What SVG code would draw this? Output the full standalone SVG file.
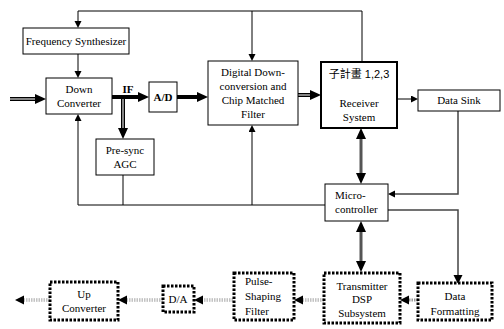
<svg xmlns="http://www.w3.org/2000/svg" width="504" height="329" viewBox="0 0 504 329" font-family="Liberation Serif, DejaVu Serif, serif">
<style>
.box{fill:#fff;stroke:#000;stroke-width:1}
.rbox{fill:#fff;stroke:#000;stroke-width:2}
.dbox{fill:#fff;stroke:#000;stroke-width:3;stroke-dasharray:2.5 1.5}
.t{font-size:11px;fill:#000;text-anchor:middle}
.tl{text-anchor:start}
.b{font-weight:bold}
.thin{fill:none;stroke:#000;stroke-width:1}
.gray{fill:none;stroke:#444;stroke-width:1.5}
.dbl{fill:none;stroke:#000;stroke-width:4}
.dblin{fill:none;stroke:#ccc;stroke-width:1.3}
.bid{fill:none;stroke:#555;stroke-width:3}
.dot{fill:none;stroke:#999;stroke-width:3;stroke-dasharray:1.5 1}
.dotin{fill:none;stroke:#fff;stroke-width:0.8}
</style>
<defs>
<marker id="sm" markerUnits="userSpaceOnUse" markerWidth="8" markerHeight="8" refX="0" refY="3.5" orient="auto"><path d="M0,0 L7,3.5 L0,7 z" fill="#000"/></marker>
<marker id="big" markerUnits="userSpaceOnUse" markerWidth="12" markerHeight="12" refX="0" refY="5" orient="auto-start-reverse"><path d="M0,0 L11,5 L0,10 z" fill="#000"/></marker>
<marker id="mid" markerUnits="userSpaceOnUse" markerWidth="10" markerHeight="10" refX="0" refY="4.5" orient="auto"><path d="M0,0 L9,4.5 L0,9 z" fill="#000"/></marker>
</defs>

<g id="connectors">
<path class="thin" d="M362,62 V11 H78 V21" marker-end="url(#sm)"/>
<path class="thin" d="M252,11 V54" marker-end="url(#sm)"/>
<path class="thin" d="M78,54 V71" marker-end="url(#sm)"/>
<path class="thin" d="M325,205 H78 V121" marker-end="url(#sm)"/>
<path class="thin" d="M123,175 V205"/>
<path class="thin" d="M252,205 V132" marker-end="url(#sm)"/>
<path class="thin" d="M397,99 H411" marker-end="url(#sm)"/>
<path class="gray" d="M458,111 V194 H395" marker-end="url(#sm)"/>
<path class="gray" d="M388,210 H458 V275" marker-end="url(#mid)"/>

<path class="dbl" d="M10,99 H35" marker-end="url(#big)"/>
<path class="dblin" d="M10,99 H35"/>
<path class="dbl" d="M112,97 H138" marker-end="url(#big)"/>
<path class="dbl" d="M123,97 V128" marker-end="url(#big)"/>
<path class="dblin" d="M123,99 V128"/>
<path class="dbl" d="M177,97 H197" marker-end="url(#big)"/>
<path class="dbl" d="M298,95 H310" marker-end="url(#big)"/>
<path class="dblin" d="M298,95 H310"/>

<path class="bid" d="M361,139 V173" marker-start="url(#big)" marker-end="url(#big)"/>
<path class="bid" d="M361,232 V261" marker-start="url(#big)" marker-end="url(#big)"/>

<path class="dot" d="M418,300 H409" marker-end="url(#mid)"/>
<path class="dot" d="M324,300 H303" marker-end="url(#mid)"/>
<path class="dotin" d="M324,300 H303"/>
<path class="dot" d="M233,300 H203" marker-end="url(#mid)"/>
<path class="dotin" d="M233,300 H203"/>
<path class="dot" d="M163,300 H127" marker-end="url(#mid)"/>
<path class="dotin" d="M163,300 H127"/>
<path class="dot" d="M50,300 H24" marker-end="url(#mid)"/>
<path class="dotin" d="M50,300 H24"/>
</g>

<g id="freq-synth">
<rect class="box" x="23" y="28" width="106" height="26"/>
<text class="t" x="76" y="45">Frequency  Synthesizer</text>
</g>
<g id="down-converter">
<rect class="box" x="46" y="78" width="66" height="36"/>
<text class="t" x="79" y="93">Down</text>
<text class="t" x="79" y="107">Converter</text>
</g>
<g id="if-label">
<text class="t b" x="128" y="93">IF</text>
</g>
<g id="ad">
<rect class="box" x="149" y="82" width="28" height="30"/>
<text class="t b" x="163" y="101">A/D</text>
</g>
<g id="presync-agc">
<rect class="box" x="96" y="139" width="58" height="36"/>
<text class="t" x="125" y="154">Pre-sync</text>
<text class="t" x="125" y="168">AGC</text>
</g>
<g id="digital-down">
<rect class="box" x="208" y="61" width="90" height="64"/>
<text class="t" x="253" y="76">Digital Down-</text>
<text class="t" x="253" y="90">conversion and</text>
<text class="t" x="253" y="104">Chip Matched</text>
<text class="t" x="253" y="118">Filter</text>
</g>
<g id="receiver">
<rect class="rbox" x="321" y="62" width="76" height="66"/>
<text x="359" y="78" font-family="Liberation Sans, Noto Sans CJK TC, sans-serif" font-size="11" text-anchor="middle">子計畫 1,2,3</text>
<text class="t" x="359" y="107">Receiver</text>
<text class="t" x="359" y="121">System</text>
</g>
<g id="data-sink">
<rect class="box" x="418" y="90" width="82" height="21"/>
<text class="t" x="459" y="104">Data Sink</text>
</g>
<g id="microcontroller">
<rect class="box" x="325" y="184" width="63" height="37"/>
<text class="t tl" x="335" y="199">Micro-</text>
<text class="t tl" x="335" y="213">controller</text>
</g>
<g id="data-formatting">
<rect class="dbox" x="418" y="283" width="74" height="37"/>
<text class="t" x="455" y="300">Data</text>
<text class="t" x="455" y="315">Formatting</text>
</g>
<g id="transmitter">
<rect class="dbox" x="324" y="273" width="76" height="50"/>
<text class="t" x="362" y="290">Transmitter</text>
<text class="t" x="362" y="303">DSP</text>
<text class="t" x="362" y="317">Subsystem</text>
</g>
<g id="pulse-shaping">
<rect class="dbox" x="234" y="273" width="60" height="47"/>
<text class="t tl" x="245" y="285">Pulse-</text>
<text class="t tl" x="245" y="300">Shaping</text>
<text class="t tl" x="245" y="315">Filter</text>
</g>
<g id="da">
<rect class="dbox" x="163" y="286" width="31" height="26"/>
<text class="t" x="178" y="303">D/A</text>
</g>
<g id="up-converter">
<rect class="dbox" x="50" y="282" width="68" height="38"/>
<text class="t" x="84" y="298">Up</text>
<text class="t" x="84" y="312">Converter</text>
</g>
</svg>
